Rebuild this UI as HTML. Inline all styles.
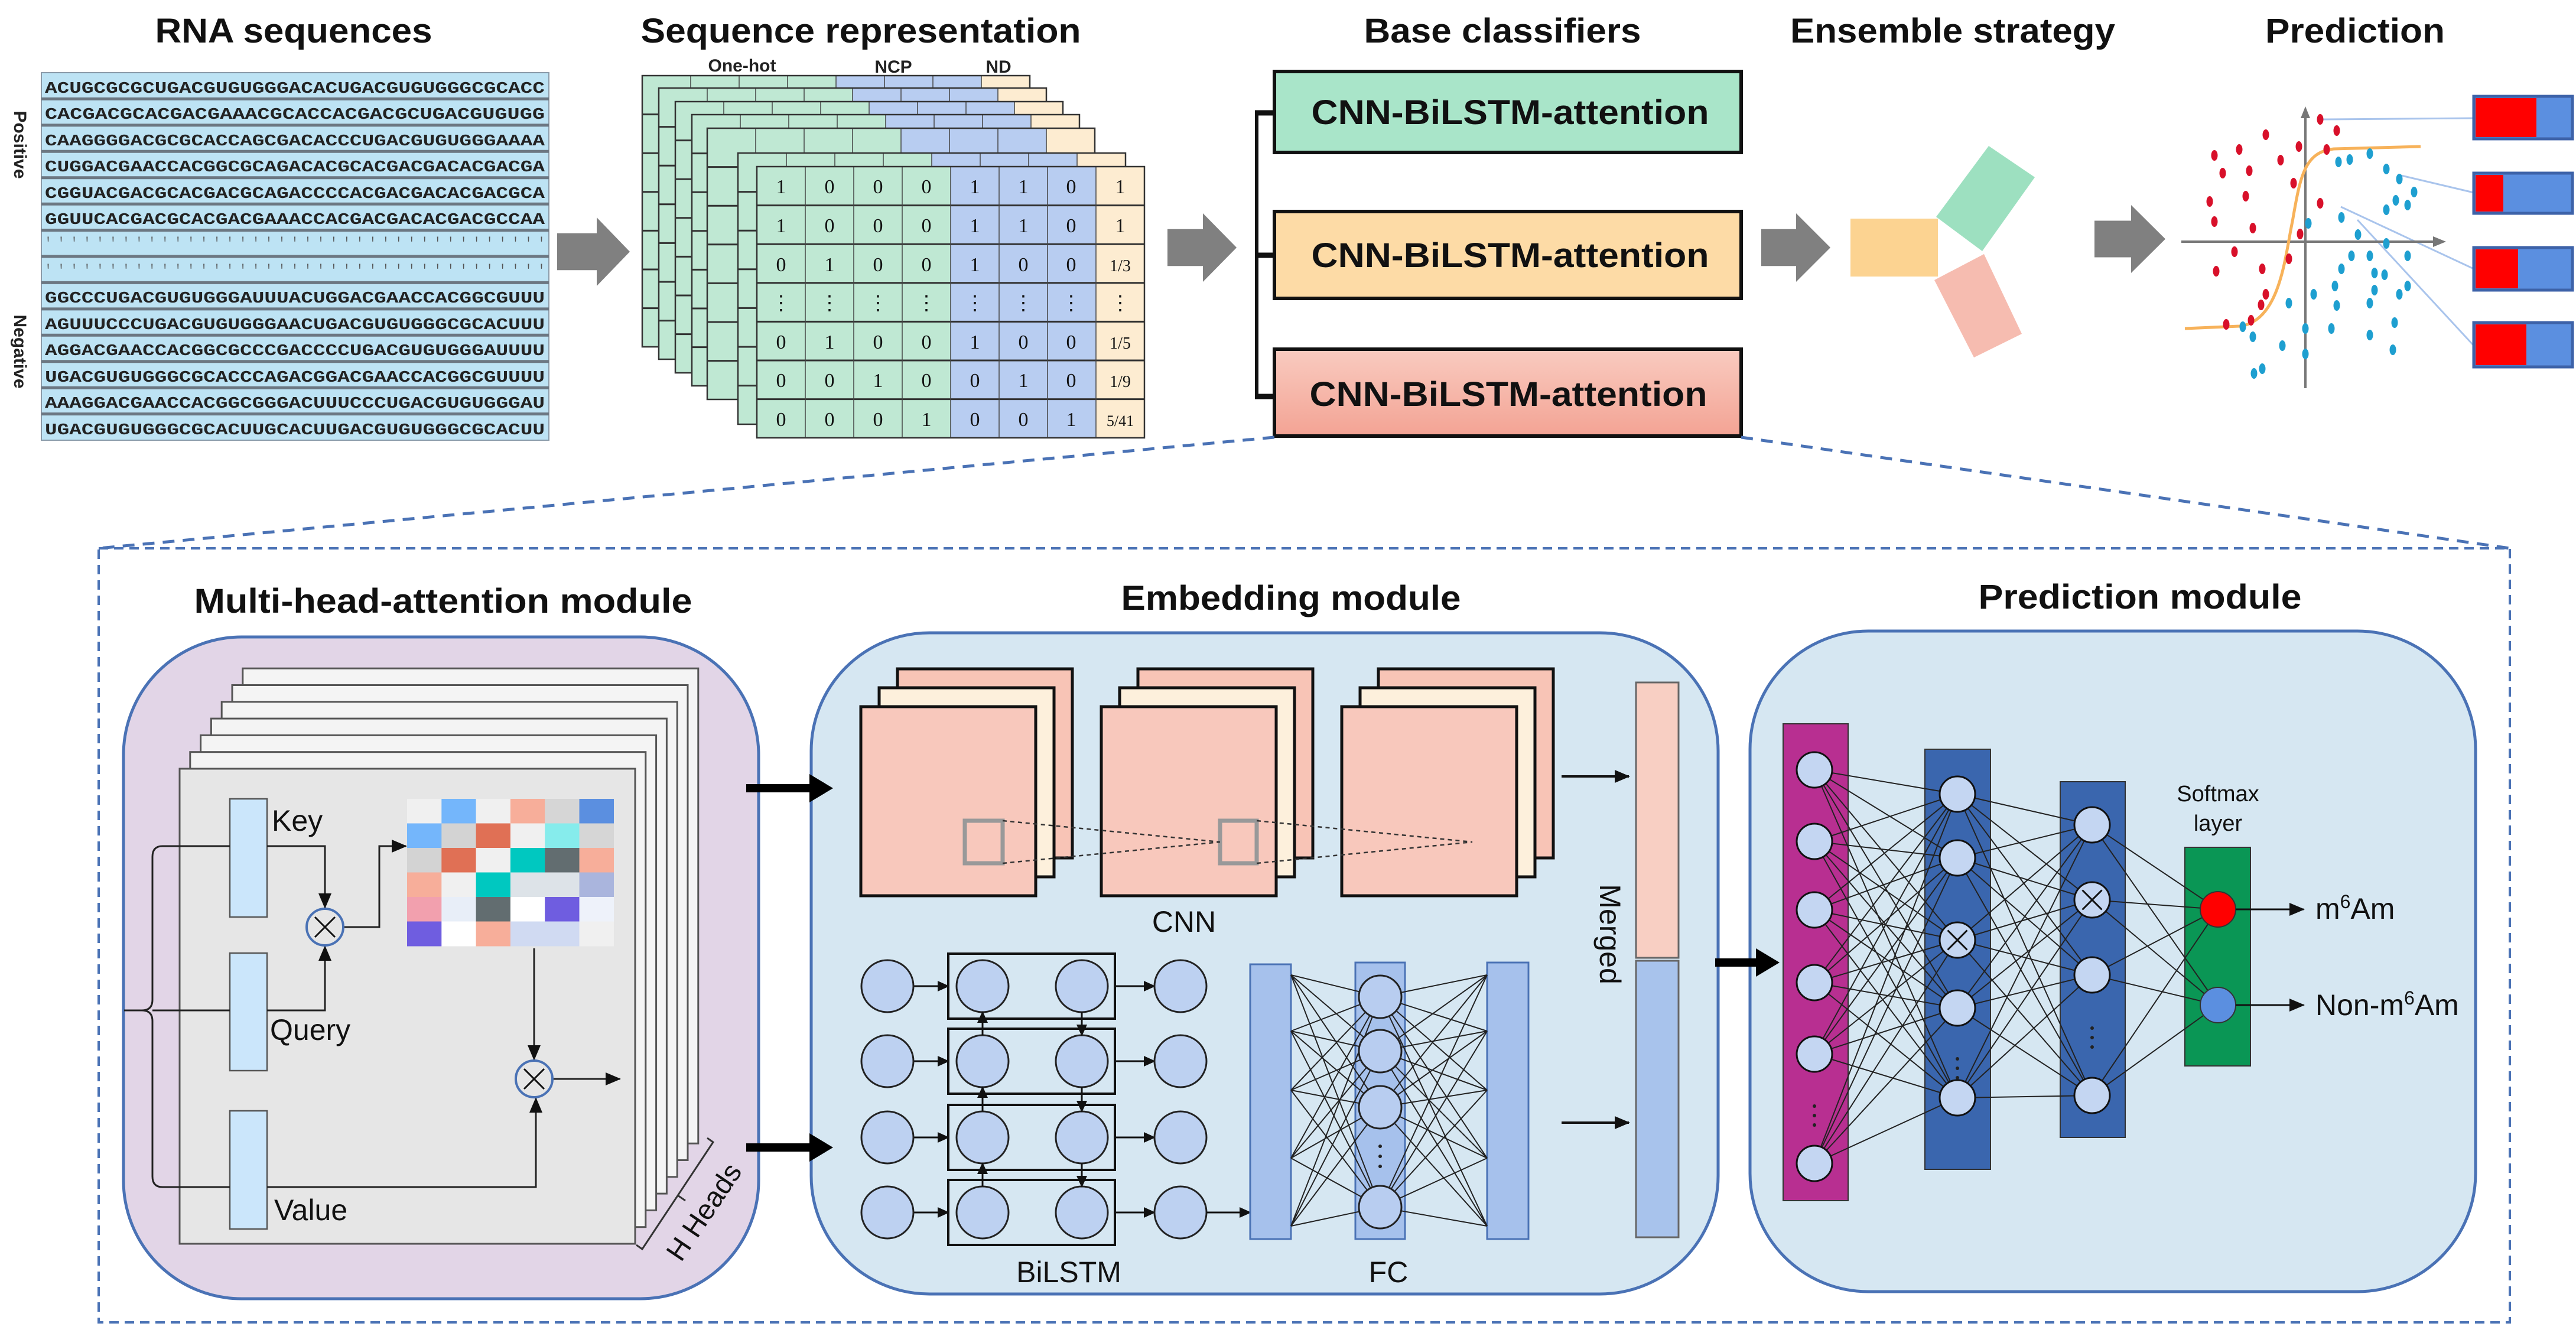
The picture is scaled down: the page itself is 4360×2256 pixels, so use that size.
<!DOCTYPE html>
<html><head><meta charset="utf-8"><style>
html,body{margin:0;padding:0;background:#fff;}
svg{display:block;font-family:"Liberation Sans",sans-serif;}
</style></head><body>
<svg width="4360" height="2256" viewBox="0 0 4360 2256" xmlns="http://www.w3.org/2000/svg" xmlns:xlink="http://www.w3.org/1999/xlink">
<defs>
<marker id="a" markerUnits="userSpaceOnUse" markerWidth="26" markerHeight="22" refX="24" refY="11" orient="auto"><path d="M0,0 L26,11 L0,22z" fill="#111"/></marker>
<marker id="b" markerUnits="userSpaceOnUse" markerWidth="20" markerHeight="18" refX="18" refY="9" orient="auto"><path d="M0,0 L20,9 L0,18z" fill="#111"/></marker>
<linearGradient id="pk" x1="0" y1="0" x2="0" y2="1"><stop offset="0" stop-color="#f9cbc0"/><stop offset="1" stop-color="#f3a394"/></linearGradient>
<g id="L">
<rect x="0" y="0" width="328" height="459" fill="#bfe8d3"/>
<rect x="328" y="0" width="246" height="459" fill="#b8cdf1"/>
<rect x="574" y="0" width="82" height="459" fill="#fdecd1"/>
<path d="M0,65.6H656M0,131.2H656M0,196.8H656M0,262.4H656M0,328H656M0,393.6H656" stroke="#333" stroke-width="3"/>
<path d="M82,0V459M164,0V459M246,0V459M328,0V459M410,0V459M492,0V459M574,0V459" stroke="#444" stroke-width="1.5"/>
<rect x="0" y="0" width="656" height="459" fill="none" stroke="#333" stroke-width="2.5"/>
</g>
<g id="cg">
<rect x="62" y="0" width="296" height="320" fill="#f8c4b6" stroke="#111" stroke-width="5"/>
<rect x="31" y="32" width="296" height="320" fill="#fdf0dc" stroke="#111" stroke-width="5"/>
<rect x="0" y="64" width="296" height="320" fill="#f8c8bc" stroke="#111" stroke-width="5"/>
</g>
<g id="br">
<rect x="1605" y="-55" width="282" height="110" fill="none" stroke="#111" stroke-width="4"/>
<line x1="1546" y1="0" x2="1605" y2="0" stroke="#111" stroke-width="3" marker-end="url(#b)"/>
<line x1="1887" y1="0" x2="1954" y2="0" stroke="#111" stroke-width="3" marker-end="url(#b)"/>
<circle cx="1502" cy="0" r="44" fill="#bdd1f1" stroke="#222" stroke-width="3"/>
<circle cx="1663" cy="0" r="44" fill="#bdd1f1" stroke="#222" stroke-width="3"/>
<circle cx="1831" cy="0" r="44" fill="#bdd1f1" stroke="#222" stroke-width="3"/>
<circle cx="1998" cy="0" r="44" fill="#bdd1f1" stroke="#222" stroke-width="3"/>
</g>
</defs>

<rect x="70" y="123" width="859" height="622" fill="#bde3f4" stroke="#8a9aa8" stroke-width="2"/>
<path d="M70,167.4H929M70,211.9H929M70,256.3H929M70,300.7H929M70,345.2H929M70,389.6H929M70,434H929M70,478.4H929M70,522.9H929M70,567.3H929M70,611.7H929M70,656.2H929M70,700.6H929" stroke="#6c7782" stroke-width="5"/>

<use xlink:href="#L" x="1087" y="128"/>
<use xlink:href="#L" x="1115" y="149"/>
<use xlink:href="#L" x="1143" y="172"/>
<use xlink:href="#L" x="1171" y="194"/>
<use xlink:href="#L" x="1197" y="217"/>
<use xlink:href="#L" x="1249" y="259"/>
<use xlink:href="#L" x="1281" y="282"/>

<g fill="#808080">
<path d="M943,394.7L1010,394.7L1010,368L1066,426L1010,484L1010,457.3L943,457.3z"/>
<path d="M1976,387.7L2036,387.7L2036,361L2093,419L2036,477L2036,450.3L1976,450.3z"/>
<path d="M2981,387.7L3040,387.7L3040,361L3098,419L3040,477L3040,450.3L2981,450.3z"/>
<path d="M3545,373.5L3607,373.5L3607,347L3665,404.5L3607,462L3607,435.5L3545,435.5z"/>
</g>

<rect x="2157" y="121" width="790" height="137" fill="#a9e5c9" stroke="#111" stroke-width="6"/>
<rect x="2157" y="358" width="790" height="147" fill="#fddba6" stroke="#111" stroke-width="6"/>
<rect x="2157" y="591" width="790" height="147" fill="url(#pk)" stroke="#111" stroke-width="6"/>
<path d="M2127,188V674" stroke="#111" stroke-width="6"/>
<path d="M2124,191H2160M2124,432H2160M2124,671H2160" stroke="#111" stroke-width="9"/>

<rect x="3132" y="370" width="148" height="98" fill="#fcd391"/>
<path d="M3366,247L3444,300L3355,425L3277,367z" fill="#9de0c0"/>
<path d="M3274,474L3358,430L3422,565L3341,605z" fill="#f6bcb0"/>

<path d="M3930,202L4187,200M4060,296L4187,326M3962,350L4187,455M3990,372L4187,585" stroke="#a9c4ec" stroke-width="3"/>
<path d="M3692,409H4128M3902,657V192" stroke="#777" stroke-width="4"/>
<path d="M4140,409L4118,400L4118,418zM3902,180L3894,200L3910,200z" fill="#777"/>
<path d="M3698,556 L3790,552 C3860,545 3868,430 3880,375 C3893,300 3900,257 3950,252 L4097,248" fill="none" stroke="#f7b25a" stroke-width="5"/>
<g fill="#d8102a">
<ellipse cx="3927" cy="202" rx="5.5" ry="9"/><ellipse cx="3835" cy="228" rx="5.5" ry="9"/><ellipse cx="3955" cy="221" rx="5.5" ry="9"/><ellipse cx="3891" cy="248" rx="5.5" ry="9"/><ellipse cx="3860" cy="271" rx="5.5" ry="9"/><ellipse cx="3748" cy="263" rx="5.5" ry="9"/><ellipse cx="3790" cy="253" rx="5.5" ry="9"/><ellipse cx="3938" cy="253" rx="5.5" ry="9"/><ellipse cx="3762" cy="293" rx="5.5" ry="9"/><ellipse cx="3807" cy="289" rx="5.5" ry="9"/><ellipse cx="3882" cy="310" rx="5.5" ry="9"/><ellipse cx="3740" cy="341" rx="5.5" ry="9"/><ellipse cx="3801" cy="332" rx="5.5" ry="9"/><ellipse cx="3927" cy="344" rx="5.5" ry="9"/><ellipse cx="3748" cy="375" rx="5.5" ry="9"/><ellipse cx="3813" cy="386" rx="5.5" ry="9"/><ellipse cx="3893" cy="396" rx="5.5" ry="9"/><ellipse cx="3782" cy="426" rx="5.5" ry="9"/><ellipse cx="3751" cy="459" rx="5.5" ry="9"/><ellipse cx="3829" cy="455" rx="5.5" ry="9"/><ellipse cx="3874" cy="438" rx="5.5" ry="9"/><ellipse cx="3835" cy="498" rx="5.5" ry="9"/><ellipse cx="3827" cy="516" rx="5.5" ry="9"/><ellipse cx="3810" cy="542" rx="5.5" ry="9"/><ellipse cx="3768" cy="549" rx="5.5" ry="9"/>
</g>
<g fill="#1e9fd0">
<ellipse cx="4011" cy="260" rx="5.5" ry="9"/><ellipse cx="3958" cy="274" rx="5.5" ry="9"/><ellipse cx="3977" cy="270" rx="5.5" ry="9"/><ellipse cx="4039" cy="286" rx="5.5" ry="9"/><ellipse cx="4061" cy="303" rx="5.5" ry="9"/><ellipse cx="4086" cy="325" rx="5.5" ry="9"/><ellipse cx="4075" cy="347" rx="5.5" ry="9"/><ellipse cx="4055" cy="339" rx="5.5" ry="9"/><ellipse cx="4039" cy="355" rx="5.5" ry="9"/><ellipse cx="3907" cy="378" rx="5.5" ry="9"/><ellipse cx="3963" cy="368" rx="5.5" ry="9"/><ellipse cx="3991" cy="397" rx="5.5" ry="9"/><ellipse cx="4039" cy="412" rx="5.5" ry="9"/><ellipse cx="3980" cy="433" rx="5.5" ry="9"/><ellipse cx="4075" cy="433" rx="5.5" ry="9"/><ellipse cx="4011" cy="433" rx="5.5" ry="9"/><ellipse cx="3963" cy="455" rx="5.5" ry="9"/><ellipse cx="4019" cy="462" rx="5.5" ry="9"/><ellipse cx="4036" cy="465" rx="5.5" ry="9"/><ellipse cx="3952" cy="484" rx="5.5" ry="9"/><ellipse cx="4019" cy="491" rx="5.5" ry="9"/><ellipse cx="4075" cy="484" rx="5.5" ry="9"/><ellipse cx="4061" cy="498" rx="5.5" ry="9"/><ellipse cx="3916" cy="498" rx="5.5" ry="9"/><ellipse cx="3955" cy="517" rx="5.5" ry="9"/><ellipse cx="4011" cy="513" rx="5.5" ry="9"/><ellipse cx="3874" cy="513" rx="5.5" ry="9"/><ellipse cx="3902" cy="556" rx="5.5" ry="9"/><ellipse cx="3946" cy="556" rx="5.5" ry="9"/><ellipse cx="4011" cy="567" rx="5.5" ry="9"/><ellipse cx="4053" cy="546" rx="5.5" ry="9"/><ellipse cx="3813" cy="570" rx="5.5" ry="9"/><ellipse cx="3863" cy="585" rx="5.5" ry="9"/><ellipse cx="3902" cy="599" rx="5.5" ry="9"/><ellipse cx="3829" cy="624" rx="5.5" ry="9"/><ellipse cx="3815" cy="632" rx="5.5" ry="9"/><ellipse cx="4050" cy="592" rx="5.5" ry="9"/><ellipse cx="3796" cy="553" rx="5.5" ry="9"/>
</g>
<g stroke="#3d62a8" stroke-width="5" fill="#5b8fe0">
<rect x="4187" y="163" width="167" height="72"/><rect x="4187" y="293" width="167" height="68"/><rect x="4187" y="419" width="167" height="72"/><rect x="4187" y="546" width="167" height="75"/>
</g>
<g fill="#ff0000">
<rect x="4190" y="166" width="103" height="66"/><rect x="4190" y="296" width="47" height="62"/><rect x="4190" y="422" width="72" height="66"/><rect x="4190" y="549" width="86" height="69"/>
</g>

<path d="M2157,740L167,928M2947,740L4248,928" stroke="#4a72b5" stroke-width="5" stroke-dasharray="20 14"/>
<rect x="167" y="928" width="4081" height="1310" fill="none" stroke="#4a72b5" stroke-width="4" stroke-dasharray="16 10"/>

<rect x="209" y="1078" width="1075" height="1120" rx="200" fill="#e2d5e7" stroke="#4a72b5" stroke-width="5"/>
<rect x="1373" y="1071" width="1535" height="1119" rx="200" fill="#d6e7f2" stroke="#4a72b5" stroke-width="5"/>
<rect x="2962" y="1068" width="1228" height="1118" rx="200" fill="#d6e7f2" stroke="#4a72b5" stroke-width="5"/>

<g stroke="#555" stroke-width="3" fill="#f4f4f4">
<rect x="410.8" y="1131.2" width="771" height="804"/>
<rect x="393" y="1159.5" width="771" height="804"/>
<rect x="375.2" y="1187.8" width="771" height="804"/>
<rect x="357.4" y="1216.1" width="771" height="804"/>
<rect x="339.6" y="1244.4" width="771" height="804"/>
<rect x="321.8" y="1272.7" width="771" height="804"/>
<rect x="304" y="1301" width="771" height="804" fill="#e6e6e6"/>
</g>
<g fill="#cbe6fb" stroke="#555" stroke-width="2.5">
<rect x="389" y="1352" width="63" height="200"/><rect x="389" y="1613" width="63" height="199"/><rect x="389" y="1880" width="63" height="200"/>
</g>
<g>
<rect x="689" y="1352" width="58.5" height="42" fill="#f0f0f0"/><rect x="747.3" y="1352" width="58.5" height="42" fill="#74b6fb"/><rect x="805.6" y="1352" width="58.5" height="42" fill="#f0f0f0"/><rect x="863.9" y="1352" width="58.5" height="42" fill="#f7ae9a"/><rect x="922.2" y="1352" width="58.5" height="42" fill="#d6d6d6"/><rect x="980.5" y="1352" width="58.5" height="42" fill="#5b8fe0"/>
<rect x="689" y="1393.5" width="58.5" height="42" fill="#74b6fb"/><rect x="747.3" y="1393.5" width="58.5" height="42" fill="#d3d3d3"/><rect x="805.6" y="1393.5" width="58.5" height="42" fill="#e07055"/><rect x="863.9" y="1393.5" width="58.5" height="42" fill="#f0f0f0"/><rect x="922.2" y="1393.5" width="58.5" height="42" fill="#86ecec"/><rect x="980.5" y="1393.5" width="58.5" height="42" fill="#d6d6d6"/>
<rect x="689" y="1435" width="58.5" height="42" fill="#d3d3d3"/><rect x="747.3" y="1435" width="58.5" height="42" fill="#e07055"/><rect x="805.6" y="1435" width="58.5" height="42" fill="#f0f0f0"/><rect x="863.9" y="1435" width="58.5" height="42" fill="#00c8c0"/><rect x="922.2" y="1435" width="58.5" height="42" fill="#626d70"/><rect x="980.5" y="1435" width="58.5" height="42" fill="#f7ae9a"/>
<rect x="689" y="1476.5" width="58.5" height="42" fill="#f7ae9a"/><rect x="747.3" y="1476.5" width="58.5" height="42" fill="#f0f0f0"/><rect x="805.6" y="1476.5" width="58.5" height="42" fill="#00c8c0"/><rect x="863.9" y="1476.5" width="58.5" height="42" fill="#dde3e8"/><rect x="922.2" y="1476.5" width="58.5" height="42" fill="#dde3e8"/><rect x="980.5" y="1476.5" width="58.5" height="42" fill="#aab5dd"/>
<rect x="689" y="1518" width="58.5" height="42" fill="#f2a0ae"/><rect x="747.3" y="1518" width="58.5" height="42" fill="#e8eef8"/><rect x="805.6" y="1518" width="58.5" height="42" fill="#626d70"/><rect x="863.9" y="1518" width="58.5" height="42" fill="#ffffff"/><rect x="922.2" y="1518" width="58.5" height="42" fill="#6f5de0"/><rect x="980.5" y="1518" width="58.5" height="42" fill="#eef2fa"/>
<rect x="689" y="1559.5" width="58.5" height="42" fill="#6f5de0"/><rect x="747.3" y="1559.5" width="58.5" height="42" fill="#ffffff"/><rect x="805.6" y="1559.5" width="58.5" height="42" fill="#f7ae9a"/><rect x="863.9" y="1559.5" width="58.5" height="42" fill="#d0daf2"/><rect x="922.2" y="1559.5" width="58.5" height="42" fill="#d0daf2"/><rect x="980.5" y="1559.5" width="58.5" height="42" fill="#f0f0f0"/>
</g>
<g fill="none" stroke="#222" stroke-width="3">
<path d="M389,1432 L275,1432 Q258,1432 258,1450 L258,1692 Q258,1710 240,1710 Q258,1710 258,1728 L258,1991 Q258,2009 275,2009 L389,2009"/>
<path d="M210,1710 L240,1710 M258,1710 L389,1710"/>
<path d="M452,1432 L550,1432 L550,1536" marker-end="url(#a)"/>
<path d="M452,1710 L550,1710 L550,1602" marker-end="url(#a)"/>
<path d="M581,1569 L642,1569 L642,1432 L687,1432" marker-end="url(#a)"/>
<path d="M904,1605 L904,1793" marker-end="url(#a)"/>
<path d="M452,2009 L907,2009 L907,1859" marker-end="url(#a)"/>
<path d="M935,1826 L1049,1826" marker-end="url(#a)"/>
<path d="M1077,2107 L1087,2114 L1207,1933 L1197,1926 M1147,2023 L1160,2032" stroke="#333"/>
</g>
<circle cx="550" cy="1569" r="31" fill="#e6e6e6" stroke="#4a72b5" stroke-width="4"/>
<circle cx="904" cy="1826" r="31" fill="#e6e6e6" stroke="#4a72b5" stroke-width="4"/>
<path d="M533,1552L567,1586M533,1586L567,1552M887,1809L921,1843M887,1843L921,1809" stroke="#111" stroke-width="3"/>

<g fill="#000">
<path d="M1263,1327L1370,1327L1370,1310L1410,1334L1370,1358L1370,1341L1263,1341z"/>
<path d="M1263,1935L1370,1935L1370,1918L1410,1942L1370,1966L1370,1949L1263,1949z"/>
<path d="M2903,1622L2972,1622L2972,1605L3012,1629L2972,1653L2972,1636L2903,1636z"/>
</g>

<use xlink:href="#cg" x="1519" y="1132" transform="translate(-62,0)"/>
<use xlink:href="#cg" x="1926" y="1132" transform="translate(-62,0)"/>
<use xlink:href="#cg" x="2333" y="1132" transform="translate(-62,0)"/>
<rect x="1633" y="1389" width="64" height="72" fill="none" stroke="#999" stroke-width="7"/>
<rect x="2065" y="1389" width="62" height="72" fill="none" stroke="#999" stroke-width="7"/>
<path d="M1697,1389L2065,1425M1697,1461L2065,1425M2127,1389L2492,1425M2127,1461L2492,1425" stroke="#333" stroke-width="2.5" stroke-dasharray="7 6"/>
<path d="M2643,1314H2757" stroke="#111" stroke-width="4" marker-end="url(#a)"/>
<path d="M2643,1900H2757" stroke="#111" stroke-width="4" marker-end="url(#a)"/>
<rect x="2769" y="1155" width="72" height="466" fill="#f8cfc3" stroke="#666" stroke-width="3"/>
<rect x="2769" y="1626" width="72" height="468" fill="#a8c3ec" stroke="#666" stroke-width="3"/>

<use xlink:href="#br" x="0" y="1669"/>
<use xlink:href="#br" x="0" y="1796"/>
<use xlink:href="#br" x="0" y="1925"/>
<use xlink:href="#br" x="0" y="2052"/>
<g stroke="#111" stroke-width="3">
<line x1="1663" y1="1752" x2="1663" y2="1713" marker-end="url(#b)"/>
<line x1="1663" y1="1881" x2="1663" y2="1840" marker-end="url(#b)"/>
<line x1="1663" y1="2008" x2="1663" y2="1969" marker-end="url(#b)"/>
<line x1="1831" y1="1713" x2="1831" y2="1752" marker-end="url(#b)"/>
<line x1="1831" y1="1840" x2="1831" y2="1881" marker-end="url(#b)"/>
<line x1="1831" y1="1969" x2="1831" y2="2008" marker-end="url(#b)"/>
<line x1="2042" y1="2052" x2="2116" y2="2052" marker-end="url(#b)"/>
</g>

<rect x="2116" y="1632" width="69" height="465" fill="#a6c1ec" stroke="#4a72b5" stroke-width="3"/>
<rect x="2294" y="1629" width="84" height="468" fill="#a6c1ec" stroke="#4a72b5" stroke-width="3"/>
<rect x="2517" y="1629" width="70" height="468" fill="#a6c1ec" stroke="#4a72b5" stroke-width="3"/>
<path stroke="#222" stroke-width="2" d="M2185,1650L2336,1687L2517,1650M2185,1650L2336,1779L2517,1650M2185,1650L2336,1874L2517,1650M2185,1650L2336,2043L2517,1650M2185,1745L2336,1687L2517,1745M2185,1745L2336,1779L2517,1745M2185,1745L2336,1874L2517,1745M2185,1745L2336,2043L2517,1745M2185,1845L2336,1687L2517,1845M2185,1845L2336,1779L2517,1845M2185,1845L2336,1874L2517,1845M2185,1845L2336,2043L2517,1845M2185,1960L2336,1687L2517,1960M2185,1960L2336,1779L2517,1960M2185,1960L2336,1874L2517,1960M2185,1960L2336,2043L2517,1960M2185,2075L2336,1687L2517,2075M2185,2075L2336,1779L2517,2075M2185,2075L2336,1874L2517,2075M2185,2075L2336,2043L2517,2075" fill="none"/>
<g fill="#b8cdf0" stroke="#222" stroke-width="3">
<circle cx="2336" cy="1687" r="36"/><circle cx="2336" cy="1779" r="36"/><circle cx="2336" cy="1874" r="36"/><circle cx="2336" cy="2043" r="36"/>
</g>
<g fill="#222"><circle cx="2336" cy="1940" r="3"/><circle cx="2336" cy="1957" r="3"/><circle cx="2336" cy="1974" r="3"/></g>

<rect x="3018" y="1225" width="110" height="807" fill="#b82f91" stroke="#333" stroke-width="2"/>
<rect x="3258" y="1268" width="111" height="711" fill="#3a66ae" stroke="#333" stroke-width="2"/>
<rect x="3487" y="1323" width="110" height="602" fill="#3a66ae" stroke="#333" stroke-width="2"/>
<rect x="3698" y="1434" width="111" height="370" fill="#0a9655" stroke="#333" stroke-width="2"/>
<path stroke="#222" stroke-width="2" fill="none" d="
M3313,1344L3071,1303L3313,1452M3313,1591L3071,1303L3313,1706M3071,1303L3313,1858
M3313,1344L3071,1424L3313,1452M3313,1591L3071,1424L3313,1706M3071,1424L3313,1858
M3313,1344L3071,1540L3313,1452M3313,1591L3071,1540L3313,1706M3071,1540L3313,1858
M3313,1344L3071,1663L3313,1452M3313,1591L3071,1663L3313,1706M3071,1663L3313,1858
M3313,1344L3071,1784L3313,1452M3313,1591L3071,1784L3313,1706M3071,1784L3313,1858
M3313,1344L3071,1969L3313,1452M3313,1591L3071,1969L3313,1706M3071,1969L3313,1858
M3541,1396L3313,1344L3541,1523M3541,1650L3313,1344L3541,1854
M3541,1396L3313,1452L3541,1523M3541,1650L3313,1452L3541,1854
M3541,1396L3313,1591L3541,1523M3541,1650L3313,1591L3541,1854
M3541,1396L3313,1706L3541,1523M3541,1650L3313,1706L3541,1854
M3541,1396L3313,1858L3541,1523M3541,1650L3313,1858L3541,1854
M3754,1539L3541,1396L3754,1701M3754,1539L3541,1523L3754,1701M3754,1539L3541,1650L3754,1701M3754,1539L3541,1854L3754,1701"/>
<g fill="#c4d6f2" stroke="#111" stroke-width="3">
<circle cx="3071" cy="1303" r="30"/><circle cx="3071" cy="1424" r="30"/><circle cx="3071" cy="1540" r="30"/><circle cx="3071" cy="1663" r="30"/><circle cx="3071" cy="1784" r="30"/><circle cx="3071" cy="1969" r="30"/>
<circle cx="3313" cy="1344" r="30"/><circle cx="3313" cy="1452" r="30"/><circle cx="3313" cy="1591" r="30"/><circle cx="3313" cy="1706" r="30"/><circle cx="3313" cy="1858" r="30"/>
<circle cx="3541" cy="1396" r="30"/><circle cx="3541" cy="1523" r="30"/><circle cx="3541" cy="1650" r="30"/><circle cx="3541" cy="1854" r="30"/>
</g>
<path d="M3296.5,1574.5L3329.5,1607.5M3296.5,1607.5L3329.5,1574.5M3524.5,1506.5L3557.5,1539.5M3524.5,1539.5L3557.5,1506.5" stroke="#111" stroke-width="3"/>
<g fill="#222">
<circle cx="3071" cy="1872" r="3"/><circle cx="3071" cy="1888" r="3"/><circle cx="3071" cy="1904" r="3"/>
<circle cx="3313" cy="1792" r="3"/><circle cx="3313" cy="1808" r="3"/><circle cx="3313" cy="1824" r="3"/>
<circle cx="3541" cy="1740" r="3"/><circle cx="3541" cy="1756" r="3"/><circle cx="3541" cy="1772" r="3"/>
</g>
<circle cx="3754" cy="1539" r="30" fill="#ff0000" stroke="#333" stroke-width="2"/>
<circle cx="3754" cy="1701" r="30" fill="#5b8fe0" stroke="#333" stroke-width="2"/>
<path d="M3784,1539H3899" stroke="#111" stroke-width="3" marker-end="url(#a)"/>
<path d="M3784,1701H3899" stroke="#111" stroke-width="3" marker-end="url(#a)"/>

<g font-weight="bold" font-size="58" text-anchor="middle" fill="#111">
<text x="497" y="72" textLength="469" lengthAdjust="spacingAndGlyphs">RNA sequences</text>
<text x="1457" y="72" textLength="745" lengthAdjust="spacingAndGlyphs">Sequence representation</text>
<text x="2543" y="72" textLength="469" lengthAdjust="spacingAndGlyphs">Base classifiers</text>
<text x="3305" y="72" textLength="550" lengthAdjust="spacingAndGlyphs">Ensemble strategy</text>
<text x="3986" y="72" textLength="304" lengthAdjust="spacingAndGlyphs">Prediction</text>
<text x="750" y="1037" textLength="843" lengthAdjust="spacingAndGlyphs">Multi-head-attention module</text>
<text x="2185" y="1032" textLength="575" lengthAdjust="spacingAndGlyphs">Embedding module</text>
<text x="3622" y="1030" textLength="547" lengthAdjust="spacingAndGlyphs">Prediction module</text>
</g>

<g font-family="Liberation Mono,monospace" font-weight="bold" font-size="27" fill="#222">
<text x="76" y="157" textLength="846" lengthAdjust="spacingAndGlyphs">ACUGCGCGCUGACGUGUGGGACACUGACGUGUGGGCGCACC</text>
<text x="76" y="201" textLength="846" lengthAdjust="spacingAndGlyphs">CACGACGCACGACGAAACGCACCACGACGCUGACGUGUGG</text>
<text x="76" y="246" textLength="846" lengthAdjust="spacingAndGlyphs">CAAGGGGACGCGCACCAGCGACACCCUGACGUGUGGGAAAA</text>
<text x="76" y="290" textLength="846" lengthAdjust="spacingAndGlyphs">CUGGACGAACCACGGCGCAGACACGCACGACGACACGACGA</text>
<text x="76" y="335" textLength="846" lengthAdjust="spacingAndGlyphs">CGGUACGACGCACGACGCAGACCCCACGACGACACGACGCA</text>
<text x="76" y="379" textLength="846" lengthAdjust="spacingAndGlyphs">GGUUCACGACGCACGACGAAACCACGACGACACGACGCCAA</text>
<text x="76" y="420" textLength="846" lengthAdjust="spacingAndGlyphs" font-weight="normal" fill="#555">' ' ' ' ' ' ' ' ' ' ' ' ' ' ' ' ' ' ' ' ' ' ' ' ' ' ' ' ' ' ' ' ' ' ' ' ' ' '</text>
<text x="76" y="466" textLength="846" lengthAdjust="spacingAndGlyphs" font-weight="normal" fill="#555">' ' ' ' ' ' ' ' ' ' ' ' ' ' ' ' ' ' ' ' ' ' ' ' ' ' ' ' ' ' ' ' ' ' ' ' ' ' '</text>
<text x="76" y="512" textLength="846" lengthAdjust="spacingAndGlyphs">GGCCCUGACGUGUGGGAUUUACUGGACGAACCACGGCGUUU</text>
<text x="76" y="557" textLength="846" lengthAdjust="spacingAndGlyphs">AGUUUCCCUGACGUGUGGGAACUGACGUGUGGGCGCACUUU</text>
<text x="76" y="601" textLength="846" lengthAdjust="spacingAndGlyphs">AGGACGAACCACGGCGCCCGACCCCUGACGUGUGGGAUUUU</text>
<text x="76" y="646" textLength="846" lengthAdjust="spacingAndGlyphs">UGACGUGUGGGCGCACCCAGACGGACGAACCACGGCGUUUU</text>
<text x="76" y="690" textLength="846" lengthAdjust="spacingAndGlyphs">AAAGGACGAACCACGGCGGGACUUUCCCUGACGUGUGGGAU</text>
<text x="76" y="735" textLength="846" lengthAdjust="spacingAndGlyphs">UGACGUGUGGGCGCACUUGCACUUGACGUGUGGGCGCACUU</text>
</g>
<g font-weight="bold" font-size="30" fill="#222" text-anchor="middle">
<text transform="translate(24,245) rotate(90)">Positive</text>
<text transform="translate(24,595) rotate(90)">Negative</text>
<text x="1256" y="121">One-hot</text>
<text x="1512" y="123">NCP</text>
<text x="1690" y="123">ND</text>
</g>

<g font-family="Liberation Serif,serif" font-size="34" text-anchor="middle" fill="#111">
<text x="1322" y="327">1</text><text x="1404" y="327">0</text><text x="1486" y="327">0</text><text x="1568" y="327">0</text><text x="1650" y="327">1</text><text x="1732" y="327">1</text><text x="1813" y="327">0</text><text x="1896" y="327">1</text>
<text x="1322" y="393">1</text><text x="1404" y="393">0</text><text x="1486" y="393">0</text><text x="1568" y="393">0</text><text x="1650" y="393">1</text><text x="1732" y="393">1</text><text x="1813" y="393">0</text><text x="1896" y="393">1</text>
<text x="1322" y="459">0</text><text x="1404" y="459">1</text><text x="1486" y="459">0</text><text x="1568" y="459">0</text><text x="1650" y="459">1</text><text x="1732" y="459">0</text><text x="1813" y="459">0</text><text x="1896" y="459" font-size="28">1/3</text>
<text x="1322" y="524">⋮</text><text x="1404" y="524">⋮</text><text x="1486" y="524">⋮</text><text x="1568" y="524">⋮</text><text x="1650" y="524">⋮</text><text x="1732" y="524">⋮</text><text x="1813" y="524">⋮</text><text x="1896" y="524">⋮</text>
<text x="1322" y="590">0</text><text x="1404" y="590">1</text><text x="1486" y="590">0</text><text x="1568" y="590">0</text><text x="1650" y="590">1</text><text x="1732" y="590">0</text><text x="1813" y="590">0</text><text x="1896" y="590" font-size="28">1/5</text>
<text x="1322" y="655">0</text><text x="1404" y="655">0</text><text x="1486" y="655">1</text><text x="1568" y="655">0</text><text x="1650" y="655">0</text><text x="1732" y="655">1</text><text x="1813" y="655">0</text><text x="1896" y="655" font-size="28">1/9</text>
<text x="1322" y="721">0</text><text x="1404" y="721">0</text><text x="1486" y="721">0</text><text x="1568" y="721">1</text><text x="1650" y="721">0</text><text x="1732" y="721">0</text><text x="1813" y="721">1</text><text x="1896" y="721" font-size="26">5/41</text>
</g>

<g font-weight="bold" font-size="58" text-anchor="middle" fill="#111">
<text x="2556" y="210" textLength="673" lengthAdjust="spacingAndGlyphs">CNN-BiLSTM-attention</text>
<text x="2556" y="452" textLength="673" lengthAdjust="spacingAndGlyphs">CNN-BiLSTM-attention</text>
<text x="2553" y="687" textLength="673" lengthAdjust="spacingAndGlyphs">CNN-BiLSTM-attention</text>
</g>

<g font-size="50" fill="#111">
<text x="460" y="1406">Key</text>
<text x="457" y="1760">Query</text>
<text x="464" y="2065">Value</text>
<text transform="translate(1205,2060) rotate(-56)" text-anchor="middle" font-size="48">H Heads</text>
<text x="2004" y="1577" text-anchor="middle">CNN</text>
<text x="1809" y="2170" text-anchor="middle">BiLSTM</text>
<text x="2350" y="2170" text-anchor="middle">FC</text>
<text transform="translate(2708,1581) rotate(90)" text-anchor="middle">Merged</text>
<text x="3754" y="1356" text-anchor="middle" font-size="38">Softmax</text>
<text x="3754" y="1406" text-anchor="middle" font-size="38">layer</text>
<text x="3919" y="1555">m<tspan dy="-18" font-size="32">6</tspan><tspan dy="18">Am</tspan></text>
<text x="3919" y="1718">Non-m<tspan dy="-18" font-size="32">6</tspan><tspan dy="18">Am</tspan></text>
</g>
</svg>
</body></html>
